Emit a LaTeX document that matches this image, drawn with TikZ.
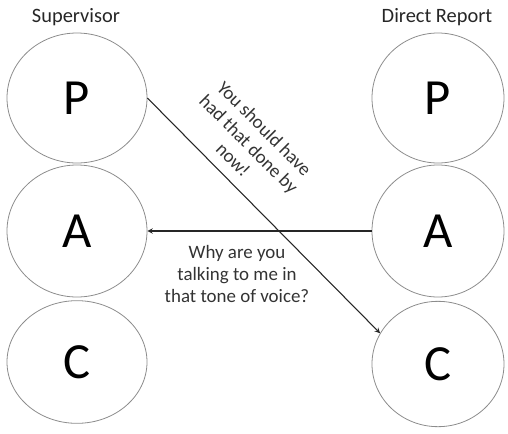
\documentclass[tikz,border=0pt]{standalone}
\usepackage{fontspec}
\setmainfont{Carlito}
\usetikzlibrary{shapes.geometric,arrows,calc}

\begin{document}
\begin{tikzpicture}[x=0.75pt, y=-0.75pt,
  state/.style={draw=black!45, line width=0.6pt, ellipse, inner sep=0pt,
    minimum width=105pt, minimum height=97.5pt,
    font=\fontsize{38}{40}\selectfont},
  title/.style={font=\fontsize{15.3}{18}\selectfont, text=black!85},
  remark/.style={align=center, font=\fontsize{14.2}{16.5}\selectfont, text=black!80},
  msg/.style={draw=black!85, line width=0.8pt, ->, >=stealth}]
  \useasboundingbox (0,0) rectangle (508,433);

  % supervisor
  \node[title] (sup) at (76,17) {Supervisor};
  \node[state] (sP) at (77,98) {P};
  \node[state, minimum height=99pt] (sA) at (77,231) {A};
  \node[state, minimum height=92pt] (sC) at (77,362) {C};

  % direct report
  \node[title] (rep) at (437,17) {Direct Report};
  \node[state, minimum width=99pt] (dP) at (438,98) {P};
  \node[state, minimum width=99pt, minimum height=99pt] (dA) at (438,231) {A};
  \node[state, minimum width=99pt, minimum height=94pt] (dC) at (438,364) {C};

  % transactions
  \draw[msg] (sP.east) -- (dC.152);
  \draw[msg] (dA.west) -- (sA.east);

  \node[remark, rotate=-45] (crit) at (249,144) {You should have\\had that done by\\now!};
  \node[remark] (reply) at (237,274) {Why are you\\talking to me in\\that tone of voice?};
\end{tikzpicture}
\end{document}
